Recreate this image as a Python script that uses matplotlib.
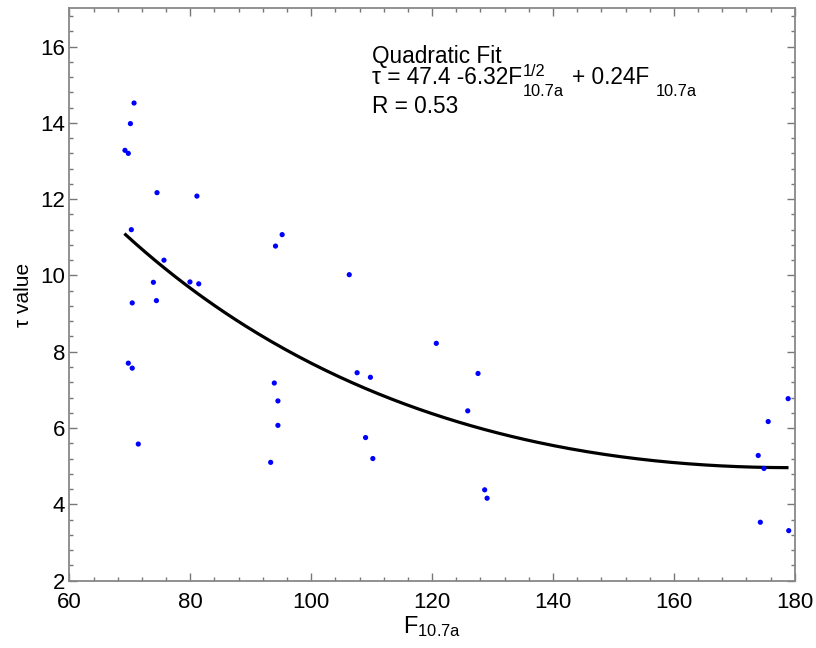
"""Scatter of tau value against F10.7a with a quadratic (sqrt) fit curve."""

import numpy as np
import matplotlib
matplotlib.use("Agg")
import matplotlib.pyplot as plt
from matplotlib.ticker import MultipleLocator

plt.rcParams["font.family"] = ["Liberation Sans", "DejaVu Sans"]
plt.rcParams["mathtext.fontset"] = "custom"
plt.rcParams["mathtext.rm"] = "Liberation Sans"
plt.rcParams["mathtext.it"] = "Liberation Sans"

# data
f107a = [70.7, 70.1, 69.2, 69.75, 74.5, 81.1, 70.25, 75.65, 73.9, 74.4,
         79.95, 81.4, 70.4, 69.75, 70.4, 71.4, 94.1, 93.9, 94.5, 94.5,
         93.3, 95.2, 106.3, 120.7, 107.6, 109.8, 127.6, 125.9, 109.0, 110.2,
         128.7, 129.1, 178.9, 175.6, 173.95, 174.9, 174.3, 179.0]
tau = [14.52, 13.98, 13.28, 13.2, 12.17, 12.08, 11.2, 10.4, 9.82, 9.34,
       9.83, 9.78, 9.28, 7.7, 7.57, 5.58, 10.77, 7.18, 6.71, 6.07,
       5.1, 11.07, 10.02, 8.22, 7.45, 7.33, 7.43, 6.45, 5.75, 5.2,
       4.38, 4.16, 6.77, 6.17, 5.28, 4.94, 3.53, 3.31]

# fit curve tau = a + b*sqrt(F) + c*F, drawn over the span of the data
fit_a, fit_b, fit_c = 47.58, -6.363, 0.2375
fit_range = (69.3, 178.7)

W, H = 816, 648
fig = plt.figure(figsize=(W / 100, H / 100), dpi=100)
ax = fig.add_axes([0.085, 0.104, 0.889, 0.883])

ax.scatter(f107a, tau, s=14, color="#0000ff", edgecolors="none", zorder=3)

fx = np.linspace(fit_range[0], fit_range[1], 200)
ax.plot(fx, fit_a + fit_b * np.sqrt(fx) + fit_c * fx, color="black", linewidth=2.3, zorder=2)

ax.set_xlim(60, 180)
ax.set_ylim(2, 17)
ax.xaxis.set_major_locator(MultipleLocator(20))
ax.xaxis.set_minor_locator(MultipleLocator(4))
ax.yaxis.set_major_locator(MultipleLocator(2))
ax.yaxis.set_minor_locator(MultipleLocator(0.4))
ax.tick_params(which="both", direction="in", top=True, right=True, color="#777777",
               labelsize=16)
ax.tick_params(axis="x", which="both", pad=8)
ax.tick_params(axis="y", which="both", pad=3)
ax.tick_params(which="major", length=6, width=1)
ax.tick_params(which="minor", length=3, width=1)
for side in ax.spines.values():
    side.set_color("#888888")
    side.set_linewidth(1.3)

ax.set_xlabel(r"$\mathregular{F_{10.7a}}$", fontsize=17, labelpad=1)
ax.set_ylabel("τ value", fontsize=15, labelpad=5)

# annotation block, laid out piece by piece in pixels from the top-left
renderer = fig.canvas.get_renderer()


def put(x, y, s, size):
    t = fig.text(x / W, 1 - y / H, s, fontsize=size, va="baseline")
    return t.get_window_extent(renderer).x1


main_size, script_size = 16.3, 11.8
put(372, 62.7, "Quadratic Fit", main_size)
end = put(372, 84.5, "τ = 47.4 -6.32F", main_size)
end = max(put(end + 1, 75.5, "1/2", script_size), put(end + 1, 96.5, "10.7a", script_size))
end = put(end + 8, 84.5, "+ 0.24F", main_size)
put(end + 6, 96.5, "10.7a", script_size)
put(372, 112.7, "R = 0.53", main_size)

fig.savefig("out.png", dpi=100)
